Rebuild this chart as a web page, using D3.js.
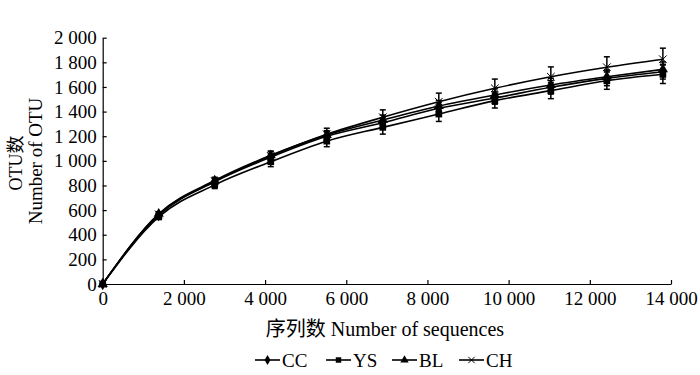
<!DOCTYPE html>
<html>
<head>
<meta charset="utf-8">
<script src="https://cdn.jsdelivr.net/npm/d3@7"></script>
<style>
  body { margin: 0; background: #fff; }
  svg text { font-family: "Liberation Serif", "Times New Roman", serif; fill: #000; }
  .cjk { font-family: "Noto Sans CJK SC", sans-serif; }
</style>
</head>
<body>
<svg id="chart" width="700" height="375"></svg>
<script>
// sequencing depth at each sampling step
var seqs = [0, 1380, 2760, 4140, 5520, 6900, 8280, 9660, 11040, 12420, 13800];

var ccVals = [0, 560, 830, 1030, 1200, 1310, 1427, 1510, 1597, 1670, 1724];
var ysVals = [0, 545, 805, 993, 1160, 1272, 1380, 1489, 1570, 1651, 1703];
var blVals = [0, 570, 840, 1045, 1210, 1332, 1445, 1535, 1616, 1683, 1743];
var chVals = [0, 565, 835, 1040, 1215, 1354, 1480, 1589, 1683, 1760, 1825];

var ccErr = [0, 15, 25, 30, 35, 40, 45, 50, 55, 60, 60];
var ysErr = [0, 20, 30, 40, 45, 55, 60, 60, 65, 70, 75];
var blErr = [0, 15, 25, 30, 35, 40, 45, 50, 55, 55, 60];
var chErr = [0, 20, 30, 40, 50, 60, 70, 75, 80, 85, 90];

var seriesNames = ["CC", "YS", "BL", "CH"];
var xTicks = [0, 2000, 4000, 6000, 8000, 10000, 12000, 14000];
var yTicks = [0, 200, 400, 600, 800, 1000, 1200, 1400, 1600, 1800, 2000];

var series = [
  {name: "CC", vals: ccVals, err: ccErr, sym: "diamond"},
  {name: "YS", vals: ysVals, err: ysErr, sym: "square"},
  {name: "BL", vals: blVals, err: blErr, sym: "triangle"},
  {name: "CH", vals: chVals, err: chErr, sym: "cross"}
];

var svg = d3.select("#chart");

var x = d3.scaleLinear().domain([0, 14000]).range([102.7, 671]);
var y = d3.scaleLinear().domain([0, 2000]).range([284, 37.7]);

var fmt = d3.formatLocale({decimal: ".", thousands: " ", grouping: [3], currency: ["", ""]}).format(",");

var xAxis = svg.append("g")
  .attr("transform", "translate(0," + y(0) + ")")
  .call(d3.axisBottom(x).tickValues(xTicks).tickFormat(fmt).tickSizeInner(-4).tickSizeOuter(0).tickPadding(8));

var yAxis = svg.append("g")
  .attr("transform", "translate(" + x(0) + ",0)")
  .call(d3.axisLeft(y).tickValues(yTicks).tickFormat(fmt).tickSizeInner(-4).tickSizeOuter(0).tickPadding(6));

[xAxis, yAxis].forEach(function (g) {
  g.selectAll("text").style("font-size", "19px").style("font-family", "Liberation Serif");
  g.selectAll("path, line").attr("stroke", "#000").attr("stroke-width", 1.2);
});

// error bars, then lines, then markers
function markerPath(sym, size) {
  var t = {diamond: d3.symbolDiamond, square: d3.symbolSquare, triangle: d3.symbolTriangle, cross: d3.symbolX}[sym];
  return d3.symbol().type(t).size(size)();
}

var line = d3.line()
  .x(function (d, i) { return x(seqs[i]); })
  .y(function (d) { return y(d); })
  .curve(d3.curveMonotoneX);

series.forEach(function (s) {
  var g = svg.append("g");
  s.vals.forEach(function (v, i) {
    if (!s.err[i]) return;
    var cx = x(seqs[i]);
    g.append("line").attr("x1", cx).attr("x2", cx)
      .attr("y1", y(v - s.err[i])).attr("y2", y(v + s.err[i]))
      .attr("stroke", "#000").attr("stroke-width", 1.5);
    [v - s.err[i], v + s.err[i]].forEach(function (e) {
      g.append("line").attr("x1", cx - 3).attr("x2", cx + 3)
        .attr("y1", y(e)).attr("y2", y(e))
        .attr("stroke", "#000").attr("stroke-width", 1.5);
    });
  });
});

series.forEach(function (s) {
  svg.append("path")
    .datum(s.vals)
    .attr("d", line)
    .attr("fill", "none")
    .attr("stroke", "#000")
    .attr("stroke-width", 1.6);
});

series.forEach(function (s) {
  svg.append("g").selectAll("path")
    .data(s.vals)
    .enter()
    .append("path")
    .attr("d", markerPath(s.sym, s.sym === "cross" ? 40 : 45))
    .attr("transform", function (d, i) { return "translate(" + x(seqs[i]) + "," + y(d) + ")"; })
    .attr("fill", "#000")
    .attr("stroke", s.sym === "cross" ? "#000" : "none")
    .attr("stroke-width", 1);
});

// axis titles
var xt = svg.append("text")
  .attr("x", 385).attr("y", 336)
  .attr("text-anchor", "middle")
  .style("font-size", "20px");
xt.append("tspan").attr("class", "cjk").text("序列数");
xt.append("tspan").text(" Number of sequences");

var yt1 = svg.append("text")
  .attr("transform", "translate(22,163) rotate(-90)")
  .attr("text-anchor", "middle")
  .style("font-size", "18px");
yt1.append("tspan").text("OTU");
yt1.append("tspan").attr("class", "cjk").text("数");

svg.append("text")
  .attr("transform", "translate(42,161) rotate(-90)")
  .attr("text-anchor", "middle")
  .style("font-size", "19px")
  .text("Number of OTU");

// legend
var legX = [255, 326, 392, 459];
var leg = svg.append("g");
series.forEach(function (s, i) {
  var lg = leg.append("g").attr("transform", "translate(" + legX[i] + ",360)");
  lg.append("line").attr("x1", 0).attr("x2", 25).attr("stroke", "#000").attr("stroke-width", 1.6);
  lg.append("path")
    .attr("d", markerPath(s.sym, s.sym === "cross" ? 28 : 30))
    .attr("transform", "translate(12.5,0)")
    .attr("fill", "#000")
    .attr("stroke", s.sym === "cross" ? "#000" : "none");
  lg.append("text").attr("x", 27).attr("y", 7)
    .style("font-size", "19px")
    .text(seriesNames[i]);
});
</script>
</body>
</html>
